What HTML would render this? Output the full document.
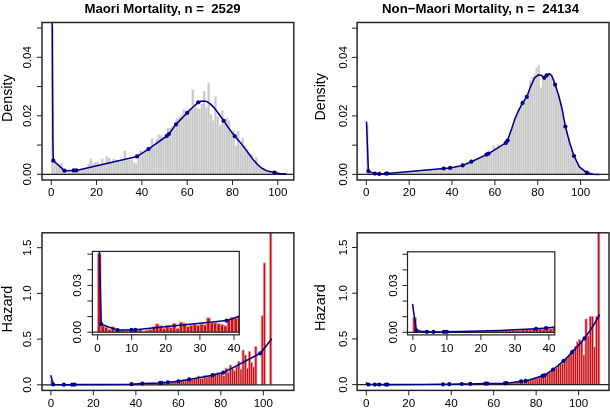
<!DOCTYPE html><html><head><meta charset="utf-8"><style>html,body{margin:0;padding:0;background:#fff;overflow:hidden;width:610px;height:409px;}svg{display:block;will-change:transform;filter:blur(0.3px);}text{font-family:"Liberation Sans",sans-serif;fill:#000;white-space:pre;}</style></head><body>
<svg width="610" height="409" viewBox="0 0 610 409">
<rect width="610" height="409" fill="#fff"/>
<defs><clipPath id="c1"><rect x="42.0" y="22.5" width="251.8" height="157.5"/></clipPath><clipPath id="c2"><rect x="357.1" y="22.5" width="251.9" height="157.5"/></clipPath><clipPath id="c3"><rect x="42.0" y="232.8" width="251.9" height="157.6"/></clipPath><clipPath id="c4"><rect x="357.1" y="232.8" width="251.9" height="157.6"/></clipPath><clipPath id="ci3"><rect x="92.4" y="251.4" width="146.9" height="83.4"/></clipPath><clipPath id="ci4"><rect x="407.5" y="251.8" width="147.3" height="83.1"/></clipPath></defs>
<g clip-path="url(#c1)" fill="#c9c9c9" stroke="#e2e2e2" stroke-width="0.4">
<rect x="51.25" y="26.9" width="2.27" height="147.4"/>
<rect x="53.52" y="163" width="2.27" height="11.3"/>
<rect x="55.78" y="165.6" width="2.27" height="8.7"/>
<rect x="58.05" y="167.2" width="2.27" height="7.1"/>
<rect x="60.31" y="163" width="2.27" height="11.3"/>
<rect x="62.58" y="170.4" width="2.27" height="3.9"/>
<rect x="64.84" y="170.4" width="2.27" height="3.9"/>
<rect x="67.11" y="171" width="2.27" height="3.3"/>
<rect x="69.37" y="171.3" width="2.27" height="3"/>
<rect x="71.64" y="171" width="2.27" height="3.3"/>
<rect x="73.91" y="171" width="2.27" height="3.3"/>
<rect x="76.17" y="171.3" width="2.27" height="3"/>
<rect x="78.44" y="170.7" width="2.27" height="3.6"/>
<rect x="80.7" y="169.7" width="2.27" height="4.6"/>
<rect x="82.97" y="169.4" width="2.27" height="4.9"/>
<rect x="85.23" y="169" width="2.27" height="5.3"/>
<rect x="87.5" y="163.8" width="2.27" height="10.5"/>
<rect x="89.76" y="158.9" width="2.27" height="15.4"/>
<rect x="92.03" y="163.3" width="2.27" height="11"/>
<rect x="94.29" y="162" width="2.27" height="12.3"/>
<rect x="96.56" y="162" width="2.27" height="12.3"/>
<rect x="98.83" y="164.2" width="2.27" height="10.1"/>
<rect x="101.09" y="158.9" width="2.27" height="15.4"/>
<rect x="103.36" y="165" width="2.27" height="9.3"/>
<rect x="105.62" y="156.7" width="2.27" height="17.6"/>
<rect x="107.89" y="158" width="2.27" height="16.3"/>
<rect x="110.15" y="162.4" width="2.27" height="11.9"/>
<rect x="112.42" y="158.9" width="2.27" height="15.4"/>
<rect x="114.68" y="159.8" width="2.27" height="14.5"/>
<rect x="116.95" y="160" width="2.27" height="14.3"/>
<rect x="119.21" y="161.5" width="2.27" height="12.8"/>
<rect x="121.48" y="160.9" width="2.27" height="13.4"/>
<rect x="123.75" y="150.8" width="2.27" height="23.5"/>
<rect x="126.01" y="160.4" width="2.27" height="13.9"/>
<rect x="128.28" y="159.8" width="2.27" height="14.5"/>
<rect x="130.54" y="159.8" width="2.27" height="14.5"/>
<rect x="132.81" y="162.6" width="2.27" height="11.7"/>
<rect x="135.07" y="163.7" width="2.27" height="10.6"/>
<rect x="137.34" y="158.1" width="2.27" height="16.2"/>
<rect x="139.6" y="150.8" width="2.27" height="23.5"/>
<rect x="141.87" y="153.1" width="2.27" height="21.2"/>
<rect x="144.14" y="150.2" width="2.27" height="24.1"/>
<rect x="146.4" y="149.7" width="2.27" height="24.6"/>
<rect x="148.67" y="147.4" width="2.27" height="26.9"/>
<rect x="150.93" y="138.2" width="2.27" height="36.1"/>
<rect x="153.2" y="147" width="2.27" height="27.3"/>
<rect x="155.46" y="139" width="2.27" height="35.3"/>
<rect x="157.73" y="134.5" width="2.27" height="39.8"/>
<rect x="159.99" y="135.5" width="2.27" height="38.8"/>
<rect x="162.26" y="138" width="2.27" height="36.3"/>
<rect x="164.52" y="134" width="2.27" height="40.3"/>
<rect x="166.79" y="128" width="2.27" height="46.3"/>
<rect x="169.06" y="128" width="2.27" height="46.3"/>
<rect x="171.32" y="126" width="2.27" height="48.3"/>
<rect x="173.59" y="124.6" width="2.27" height="49.7"/>
<rect x="175.85" y="118.5" width="2.27" height="55.8"/>
<rect x="178.12" y="117.2" width="2.27" height="57.1"/>
<rect x="180.38" y="115" width="2.27" height="59.3"/>
<rect x="182.65" y="109.4" width="2.27" height="64.9"/>
<rect x="184.91" y="112.3" width="2.27" height="62"/>
<rect x="187.18" y="110" width="2.27" height="64.3"/>
<rect x="189.45" y="108" width="2.27" height="66.3"/>
<rect x="191.71" y="89.8" width="2.27" height="84.5"/>
<rect x="193.98" y="104.6" width="2.27" height="69.7"/>
<rect x="196.24" y="108" width="2.27" height="66.3"/>
<rect x="198.51" y="109" width="2.27" height="65.3"/>
<rect x="200.77" y="104" width="2.27" height="70.3"/>
<rect x="203.04" y="91.2" width="2.27" height="83.1"/>
<rect x="205.3" y="107.6" width="2.27" height="66.7"/>
<rect x="207.57" y="82.9" width="2.27" height="91.4"/>
<rect x="209.83" y="114.2" width="2.27" height="60.1"/>
<rect x="212.1" y="120.8" width="2.27" height="53.5"/>
<rect x="214.37" y="96.6" width="2.27" height="77.7"/>
<rect x="216.63" y="117" width="2.27" height="57.3"/>
<rect x="218.9" y="125.2" width="2.27" height="49.1"/>
<rect x="221.16" y="110.5" width="2.27" height="63.8"/>
<rect x="223.43" y="123.7" width="2.27" height="50.6"/>
<rect x="225.69" y="117.9" width="2.27" height="56.4"/>
<rect x="227.96" y="120.8" width="2.27" height="53.5"/>
<rect x="230.22" y="132.5" width="2.27" height="41.8"/>
<rect x="232.49" y="130.3" width="2.27" height="44"/>
<rect x="234.76" y="145.7" width="2.27" height="28.6"/>
<rect x="237.02" y="131" width="2.27" height="43.3"/>
<rect x="239.29" y="145" width="2.27" height="29.3"/>
<rect x="241.55" y="138" width="2.27" height="36.3"/>
<rect x="243.82" y="145.5" width="2.27" height="28.8"/>
<rect x="246.08" y="148.8" width="2.27" height="25.5"/>
<rect x="248.35" y="153.5" width="2.27" height="20.8"/>
<rect x="250.61" y="154.6" width="2.27" height="19.7"/>
<rect x="252.88" y="160.5" width="2.27" height="13.8"/>
<rect x="255.14" y="157" width="2.27" height="17.3"/>
<rect x="257.41" y="166" width="2.27" height="8.3"/>
<rect x="259.68" y="168" width="2.27" height="6.3"/>
<rect x="261.94" y="169.5" width="2.27" height="4.8"/>
<rect x="264.21" y="170.5" width="2.27" height="3.8"/>
<rect x="266.47" y="171.5" width="2.27" height="2.8"/>
<rect x="268.74" y="171.5" width="2.27" height="2.8"/>
<rect x="275.53" y="170.5" width="2.27" height="3.8"/>
<rect x="277.8" y="172.3" width="2.27" height="2"/>
<rect x="284.6" y="173.6" width="2.27" height="0.7"/>
</g>
<line clip-path="url(#c1)" x1="42.0" x2="293.8" y1="174.3" y2="174.3" stroke="#222" stroke-width="1.3"/>
<polyline clip-path="url(#c1)" points="52.2,20 52.5,80 52.9,140 53.3,160.7 64.4,170.7 73.7,170.4 76.3,170.4 137.1,156.4 148.5,149.1 166.8,136 168.9,134 176,124.4 187.2,112.8 193,107 198.3,102.3 201,101.2 203.8,100.9 206.7,101.6 209.7,103.4 214.1,107.6 218.5,113.5 223.7,120.8 228.7,128.1 234.7,136.2 240.5,142.8 245.6,149.4 249,154 252.1,158.3 256.8,163.8 261.5,168 267.3,171.1 274.3,172.5 279.1,173.4 286.1,174.1" fill="none" stroke="#00008b" stroke-width="1.55" stroke-linejoin="round" stroke-linecap="round"/>
<circle cx="53.3" cy="160.7" r="2.1" fill="#00008b"/>
<circle cx="64.4" cy="170.7" r="2.1" fill="#00008b"/>
<circle cx="73.7" cy="170.4" r="2.1" fill="#00008b"/>
<circle cx="76.3" cy="170.4" r="2.1" fill="#00008b"/>
<circle cx="137.1" cy="156.4" r="2.1" fill="#00008b"/>
<circle cx="148.5" cy="149.1" r="2.1" fill="#00008b"/>
<circle cx="166.8" cy="136" r="2.1" fill="#00008b"/>
<circle cx="168.9" cy="134" r="2.1" fill="#00008b"/>
<circle cx="176" cy="124.4" r="2.1" fill="#00008b"/>
<circle cx="187.2" cy="112.8" r="2.1" fill="#00008b"/>
<circle cx="198.3" cy="102.3" r="2.1" fill="#00008b"/>
<circle cx="223.7" cy="120.8" r="2.1" fill="#00008b"/>
<circle cx="234.7" cy="136.2" r="2.1" fill="#00008b"/>
<circle cx="274.3" cy="172.5" r="2.1" fill="#00008b"/>
<rect x="42.0" y="22.5" width="251.8" height="157.5" fill="none" stroke="#222" stroke-width="1.45"/>
<line x1="51.25" x2="51.25" y1="180.0" y2="185" stroke="#222" stroke-width="1"/>
<text x="51.25" y="195.8" font-size="11.6" text-anchor="middle">0</text>
<line x1="96.56" x2="96.56" y1="180.0" y2="185" stroke="#222" stroke-width="1"/>
<text x="96.56" y="195.8" font-size="11.6" text-anchor="middle">20</text>
<line x1="141.87" x2="141.87" y1="180.0" y2="185" stroke="#222" stroke-width="1"/>
<text x="141.87" y="195.8" font-size="11.6" text-anchor="middle">40</text>
<line x1="187.18" x2="187.18" y1="180.0" y2="185" stroke="#222" stroke-width="1"/>
<text x="187.18" y="195.8" font-size="11.6" text-anchor="middle">60</text>
<line x1="232.49" x2="232.49" y1="180.0" y2="185" stroke="#222" stroke-width="1"/>
<text x="232.49" y="195.8" font-size="11.6" text-anchor="middle">80</text>
<line x1="277.8" x2="277.8" y1="180.0" y2="185" stroke="#222" stroke-width="1"/>
<text x="277.8" y="195.8" font-size="11.6" text-anchor="middle">100</text>
<line x1="37" x2="42.0" y1="174.3" y2="174.3" stroke="#222" stroke-width="1"/>
<line x1="37" x2="42.0" y1="145.05" y2="145.05" stroke="#222" stroke-width="1"/>
<line x1="37" x2="42.0" y1="115.8" y2="115.8" stroke="#222" stroke-width="1"/>
<line x1="37" x2="42.0" y1="86.55" y2="86.55" stroke="#222" stroke-width="1"/>
<line x1="37" x2="42.0" y1="57.3" y2="57.3" stroke="#222" stroke-width="1"/>
<line x1="37" x2="42.0" y1="28.05" y2="28.05" stroke="#222" stroke-width="1"/>
<text transform="translate(31,174.3) rotate(-90)" font-size="11.6" text-anchor="middle">0.00</text>
<text transform="translate(31,115.8) rotate(-90)" font-size="11.6" text-anchor="middle">0.02</text>
<text transform="translate(31,57.3) rotate(-90)" font-size="11.6" text-anchor="middle">0.04</text>
<text x="84.4" y="13.3" font-size="13.2" font-weight="bold">Maori Mortality, n =  2529</text>
<text transform="translate(12.2,98.2) rotate(-90)" font-size="14.25" text-anchor="middle">Density</text>
<g clip-path="url(#c2)" fill="#c9c9c9" stroke="#e2e2e2" stroke-width="0.4">
<rect x="366.3" y="124" width="2.14" height="50.4"/>
<rect x="368.44" y="171.72" width="2.14" height="2.68"/>
<rect x="370.59" y="172.57" width="2.14" height="1.83"/>
<rect x="372.73" y="173.18" width="2.14" height="1.22"/>
<rect x="374.87" y="173.58" width="2.14" height="0.82"/>
<rect x="377.01" y="173.79" width="2.14" height="0.61"/>
<rect x="379.16" y="174.09" width="2.14" height="0.31"/>
<rect x="381.3" y="173.4" width="2.14" height="1"/>
<rect x="383.44" y="173.8" width="2.14" height="0.6"/>
<rect x="385.59" y="173.09" width="2.14" height="1.31"/>
<rect x="387.73" y="173.35" width="2.14" height="1.05"/>
<rect x="389.87" y="173.41" width="2.14" height="0.99"/>
<rect x="392.02" y="173.03" width="2.14" height="1.37"/>
<rect x="394.16" y="173.03" width="2.14" height="1.37"/>
<rect x="396.3" y="172.27" width="2.14" height="2.13"/>
<rect x="398.44" y="172.28" width="2.14" height="2.12"/>
<rect x="400.59" y="172.21" width="2.14" height="2.19"/>
<rect x="402.73" y="172.28" width="2.14" height="2.12"/>
<rect x="404.87" y="172.03" width="2.14" height="2.37"/>
<rect x="407.02" y="171.58" width="2.14" height="2.82"/>
<rect x="409.16" y="171.32" width="2.14" height="3.08"/>
<rect x="411.3" y="171.33" width="2.14" height="3.07"/>
<rect x="413.45" y="170.77" width="2.14" height="3.63"/>
<rect x="415.59" y="170.77" width="2.14" height="3.63"/>
<rect x="417.73" y="170.29" width="2.14" height="4.11"/>
<rect x="419.88" y="170.53" width="2.14" height="3.87"/>
<rect x="422.02" y="170.42" width="2.14" height="3.98"/>
<rect x="424.16" y="169.83" width="2.14" height="4.57"/>
<rect x="426.3" y="169.91" width="2.14" height="4.49"/>
<rect x="428.45" y="169.61" width="2.14" height="4.79"/>
<rect x="430.59" y="169.32" width="2.14" height="5.08"/>
<rect x="432.73" y="169.31" width="2.14" height="5.09"/>
<rect x="434.88" y="168.94" width="2.14" height="5.46"/>
<rect x="437.02" y="168.88" width="2.14" height="5.52"/>
<rect x="439.16" y="168.23" width="2.14" height="6.17"/>
<rect x="441.31" y="168.36" width="2.14" height="6.04"/>
<rect x="443.45" y="168.26" width="2.14" height="6.14"/>
<rect x="445.59" y="167.65" width="2.14" height="6.75"/>
<rect x="447.73" y="167.96" width="2.14" height="6.44"/>
<rect x="449.88" y="167.5" width="2.14" height="6.9"/>
<rect x="452.02" y="167.37" width="2.14" height="7.03"/>
<rect x="454.16" y="167.17" width="2.14" height="7.23"/>
<rect x="456.31" y="166.28" width="2.14" height="8.12"/>
<rect x="458.45" y="166.25" width="2.14" height="8.15"/>
<rect x="460.59" y="165.21" width="2.14" height="9.19"/>
<rect x="462.74" y="165.02" width="2.14" height="9.38"/>
<rect x="464.88" y="163.53" width="2.14" height="10.87"/>
<rect x="467.02" y="162.48" width="2.14" height="11.92"/>
<rect x="469.16" y="162.24" width="2.14" height="12.16"/>
<rect x="471.31" y="160.86" width="2.14" height="13.54"/>
<rect x="473.45" y="160.02" width="2.14" height="14.38"/>
<rect x="475.59" y="159.51" width="2.14" height="14.89"/>
<rect x="477.74" y="158.26" width="2.14" height="16.14"/>
<rect x="479.88" y="157.14" width="2.14" height="17.26"/>
<rect x="482.02" y="156.53" width="2.14" height="17.87"/>
<rect x="484.17" y="155.07" width="2.14" height="19.33"/>
<rect x="486.31" y="153.37" width="2.14" height="21.03"/>
<rect x="488.45" y="152.71" width="2.14" height="21.69"/>
<rect x="490.59" y="151.64" width="2.14" height="22.76"/>
<rect x="492.74" y="145.6" width="2.14" height="28.8"/>
<rect x="494.88" y="148.09" width="2.14" height="26.31"/>
<rect x="497.02" y="144.5" width="2.14" height="29.9"/>
<rect x="499.17" y="146.57" width="2.14" height="27.83"/>
<rect x="501.31" y="145.77" width="2.14" height="28.63"/>
<rect x="503.45" y="144.16" width="2.14" height="30.24"/>
<rect x="505.6" y="142.1" width="2.14" height="32.3"/>
<rect x="507.74" y="137.8" width="2.14" height="36.6"/>
<rect x="509.88" y="131.44" width="2.14" height="42.96"/>
<rect x="512.02" y="124.95" width="2.14" height="49.45"/>
<rect x="514.17" y="117.83" width="2.14" height="56.57"/>
<rect x="516.31" y="113.74" width="2.14" height="60.66"/>
<rect x="518.45" y="109.08" width="2.14" height="65.32"/>
<rect x="520.6" y="102.62" width="2.14" height="71.78"/>
<rect x="522.74" y="100.84" width="2.14" height="73.56"/>
<rect x="524.88" y="99.53" width="2.14" height="74.87"/>
<rect x="527.02" y="93.71" width="2.14" height="80.69"/>
<rect x="529.17" y="80.5" width="2.14" height="93.9"/>
<rect x="531.31" y="77" width="2.14" height="97.4"/>
<rect x="533.45" y="74.5" width="2.14" height="99.9"/>
<rect x="535.6" y="67.8" width="2.14" height="106.6"/>
<rect x="537.74" y="65.1" width="2.14" height="109.3"/>
<rect x="539.88" y="87.3" width="2.14" height="87.1"/>
<rect x="542.03" y="76.5" width="2.14" height="97.9"/>
<rect x="544.17" y="78.5" width="2.14" height="95.9"/>
<rect x="546.31" y="76" width="2.14" height="98.4"/>
<rect x="548.45" y="75" width="2.14" height="99.4"/>
<rect x="550.6" y="73.28" width="2.14" height="101.12"/>
<rect x="552.74" y="78.68" width="2.14" height="95.72"/>
<rect x="554.88" y="85.1" width="2.14" height="89.3"/>
<rect x="557.03" y="94.35" width="2.14" height="80.05"/>
<rect x="559.17" y="102.11" width="2.14" height="72.29"/>
<rect x="561.31" y="111.81" width="2.14" height="62.59"/>
<rect x="563.46" y="122.07" width="2.14" height="52.33"/>
<rect x="565.6" y="130.16" width="2.14" height="44.24"/>
<rect x="567.74" y="138.1" width="2.14" height="36.3"/>
<rect x="569.88" y="145.9" width="2.14" height="28.5"/>
<rect x="572.03" y="153.55" width="2.14" height="20.85"/>
<rect x="574.17" y="158.78" width="2.14" height="15.62"/>
<rect x="576.31" y="162.22" width="2.14" height="12.18"/>
<rect x="578.46" y="166.65" width="2.14" height="7.75"/>
<rect x="580.6" y="168.17" width="2.14" height="6.23"/>
<rect x="582.74" y="170.1" width="2.14" height="4.3"/>
<rect x="584.89" y="171.55" width="2.14" height="2.85"/>
<rect x="587.03" y="172.83" width="2.14" height="1.57"/>
<rect x="589.17" y="173.18" width="2.14" height="1.22"/>
<rect x="591.32" y="173.73" width="2.14" height="0.67"/>
<rect x="593.46" y="174.26" width="2.14" height="0.14"/>
<rect x="595.6" y="173.93" width="2.14" height="0.47"/>
<rect x="602.03" y="174.16" width="2.14" height="0.24"/>
</g>
<line clip-path="url(#c2)" x1="357.1" x2="609.0" y1="174.4" y2="174.4" stroke="#222" stroke-width="1.3"/>
<polyline clip-path="url(#c2)" points="366.5,122.3 368.4,171.1 374.9,173.6 379.2,173.9 386,173.6 387.4,173.5 443.7,168.5 450.1,167.9 462.7,165.4 471.4,161.7 486.5,154.6 488.6,153.6 505.8,142.9 507.6,140.5 509.6,134.5 511.6,129 514.7,119.5 518.4,110.9 522.6,102.9 526.8,96.9 530.6,86.6 534.4,78.2 538.4,74.8 541.8,75.6 544.2,77.8 546.6,75.4 549.2,73.6 551.9,76 555.1,84.6 558.6,95.3 562,108.5 565.4,126.6 569.6,142.5 574,156 579.4,166.8 586.8,172.6 592.9,174.2 599,174.5" fill="none" stroke="#00008b" stroke-width="1.55" stroke-linejoin="round" stroke-linecap="round"/>
<circle cx="368.4" cy="171.1" r="2.1" fill="#00008b"/>
<circle cx="374.9" cy="173.6" r="2.1" fill="#00008b"/>
<circle cx="379.2" cy="173.9" r="2.1" fill="#00008b"/>
<circle cx="386" cy="173.6" r="2.1" fill="#00008b"/>
<circle cx="387.4" cy="173.5" r="2.1" fill="#00008b"/>
<circle cx="443.7" cy="168.5" r="2.1" fill="#00008b"/>
<circle cx="450.1" cy="167.9" r="2.1" fill="#00008b"/>
<circle cx="462.7" cy="165.4" r="2.1" fill="#00008b"/>
<circle cx="471.4" cy="161.7" r="2.1" fill="#00008b"/>
<circle cx="486.5" cy="154.6" r="2.1" fill="#00008b"/>
<circle cx="488.6" cy="153.6" r="2.1" fill="#00008b"/>
<circle cx="505.8" cy="142.9" r="2.1" fill="#00008b"/>
<circle cx="507.6" cy="140.5" r="2.1" fill="#00008b"/>
<circle cx="522.6" cy="102.9" r="2.1" fill="#00008b"/>
<circle cx="526.8" cy="96.9" r="2.1" fill="#00008b"/>
<circle cx="544.2" cy="77.8" r="2.1" fill="#00008b"/>
<circle cx="546.6" cy="75.4" r="2.1" fill="#00008b"/>
<circle cx="555.1" cy="84.6" r="2.1" fill="#00008b"/>
<circle cx="565.4" cy="126.6" r="2.1" fill="#00008b"/>
<circle cx="574" cy="156" r="2.1" fill="#00008b"/>
<circle cx="586.8" cy="172.6" r="2.1" fill="#00008b"/>
<rect x="357.1" y="22.5" width="251.9" height="157.5" fill="none" stroke="#222" stroke-width="1.45"/>
<line x1="366.3" x2="366.3" y1="180.0" y2="185" stroke="#222" stroke-width="1"/>
<text x="366.3" y="195.8" font-size="11.6" text-anchor="middle">0</text>
<line x1="409.16" x2="409.16" y1="180.0" y2="185" stroke="#222" stroke-width="1"/>
<text x="409.16" y="195.8" font-size="11.6" text-anchor="middle">20</text>
<line x1="452.02" x2="452.02" y1="180.0" y2="185" stroke="#222" stroke-width="1"/>
<text x="452.02" y="195.8" font-size="11.6" text-anchor="middle">40</text>
<line x1="494.88" x2="494.88" y1="180.0" y2="185" stroke="#222" stroke-width="1"/>
<text x="494.88" y="195.8" font-size="11.6" text-anchor="middle">60</text>
<line x1="537.74" x2="537.74" y1="180.0" y2="185" stroke="#222" stroke-width="1"/>
<text x="537.74" y="195.8" font-size="11.6" text-anchor="middle">80</text>
<line x1="580.6" x2="580.6" y1="180.0" y2="185" stroke="#222" stroke-width="1"/>
<text x="580.6" y="195.8" font-size="11.6" text-anchor="middle">100</text>
<line x1="352.1" x2="357.1" y1="174.4" y2="174.4" stroke="#222" stroke-width="1"/>
<line x1="352.1" x2="357.1" y1="145.15" y2="145.15" stroke="#222" stroke-width="1"/>
<line x1="352.1" x2="357.1" y1="115.9" y2="115.9" stroke="#222" stroke-width="1"/>
<line x1="352.1" x2="357.1" y1="86.65" y2="86.65" stroke="#222" stroke-width="1"/>
<line x1="352.1" x2="357.1" y1="57.4" y2="57.4" stroke="#222" stroke-width="1"/>
<line x1="352.1" x2="357.1" y1="28.15" y2="28.15" stroke="#222" stroke-width="1"/>
<text transform="translate(346.8,174.4) rotate(-90)" font-size="11.6" text-anchor="middle">0.00</text>
<text transform="translate(346.8,115.9) rotate(-90)" font-size="11.6" text-anchor="middle">0.02</text>
<text transform="translate(346.8,57.4) rotate(-90)" font-size="11.6" text-anchor="middle">0.04</text>
<text x="382.1" y="13.3" font-size="13.2" font-weight="bold">Non−Maori Mortality, n =  24134</text>
<text transform="translate(325.3,96.8) rotate(-90)" font-size="14.25" text-anchor="middle">Density</text>
<g clip-path="url(#c3)" fill="#cc0a12" stroke="#df9c9c" stroke-width="0.7">
<rect x="50.9" y="380.37" width="2.12" height="4.43"/>
<rect x="53.02" y="384.44" width="2.12" height="0.36"/>
<rect x="55.15" y="384.52" width="2.12" height="0.28"/>
<rect x="57.27" y="384.57" width="2.12" height="0.23"/>
<rect x="59.4" y="384.44" width="2.12" height="0.36"/>
<rect x="61.52" y="384.68" width="2.12" height="0.12"/>
<rect x="63.64" y="384.68" width="2.12" height="0.12"/>
<rect x="65.77" y="384.69" width="2.12" height="0.11"/>
<rect x="67.89" y="384.7" width="2.12" height="0.1"/>
<rect x="70.02" y="384.69" width="2.12" height="0.11"/>
<rect x="72.14" y="384.69" width="2.12" height="0.11"/>
<rect x="74.26" y="384.7" width="2.12" height="0.1"/>
<rect x="76.39" y="384.68" width="2.12" height="0.12"/>
<rect x="78.51" y="384.65" width="2.12" height="0.15"/>
<rect x="80.64" y="384.64" width="2.12" height="0.16"/>
<rect x="82.76" y="384.63" width="2.12" height="0.17"/>
<rect x="84.88" y="384.46" width="2.12" height="0.34"/>
<rect x="87.01" y="384.3" width="2.12" height="0.5"/>
<rect x="89.13" y="384.44" width="2.12" height="0.36"/>
<rect x="91.26" y="384.4" width="2.12" height="0.4"/>
<rect x="93.38" y="384.39" width="2.12" height="0.41"/>
<rect x="95.5" y="384.46" width="2.12" height="0.34"/>
<rect x="97.63" y="384.29" width="2.12" height="0.51"/>
<rect x="99.75" y="384.49" width="2.12" height="0.31"/>
<rect x="101.88" y="384.21" width="2.12" height="0.59"/>
<rect x="104" y="384.25" width="2.12" height="0.55"/>
<rect x="106.12" y="384.39" width="2.12" height="0.41"/>
<rect x="108.25" y="384.27" width="2.12" height="0.53"/>
<rect x="110.37" y="384.3" width="2.12" height="0.5"/>
<rect x="112.5" y="384.31" width="2.12" height="0.49"/>
<rect x="114.62" y="384.36" width="2.12" height="0.44"/>
<rect x="116.74" y="384.33" width="2.12" height="0.47"/>
<rect x="118.87" y="383.97" width="2.12" height="0.83"/>
<rect x="120.99" y="384.31" width="2.12" height="0.49"/>
<rect x="123.12" y="384.28" width="2.12" height="0.52"/>
<rect x="125.24" y="384.28" width="2.12" height="0.52"/>
<rect x="127.36" y="384.38" width="2.12" height="0.42"/>
<rect x="129.49" y="384.42" width="2.12" height="0.38"/>
<rect x="131.61" y="384.21" width="2.12" height="0.59"/>
<rect x="133.74" y="383.94" width="2.12" height="0.86"/>
<rect x="135.86" y="384.02" width="2.12" height="0.78"/>
<rect x="137.98" y="383.9" width="2.12" height="0.9"/>
<rect x="140.11" y="383.87" width="2.12" height="0.93"/>
<rect x="142.23" y="383.78" width="2.12" height="1.02"/>
<rect x="144.36" y="383.41" width="2.12" height="1.39"/>
<rect x="146.48" y="383.73" width="2.12" height="1.07"/>
<rect x="148.6" y="383.41" width="2.12" height="1.39"/>
<rect x="150.73" y="383.2" width="2.12" height="1.6"/>
<rect x="152.85" y="383.22" width="2.12" height="1.58"/>
<rect x="154.98" y="383.29" width="2.12" height="1.51"/>
<rect x="157.1" y="383.1" width="2.12" height="1.7"/>
<rect x="159.22" y="382.81" width="2.12" height="1.99"/>
<rect x="161.35" y="382.76" width="2.12" height="2.04"/>
<rect x="163.47" y="382.63" width="2.12" height="2.17"/>
<rect x="165.6" y="382.51" width="2.12" height="2.29"/>
<rect x="167.72" y="382.16" width="2.12" height="2.64"/>
<rect x="169.84" y="382.02" width="2.12" height="2.78"/>
<rect x="171.97" y="381.82" width="2.12" height="2.98"/>
<rect x="174.09" y="381.43" width="2.12" height="3.37"/>
<rect x="176.22" y="381.46" width="2.12" height="3.34"/>
<rect x="178.34" y="381.2" width="2.12" height="3.6"/>
<rect x="180.46" y="380.94" width="2.12" height="3.86"/>
<rect x="182.59" y="379.66" width="2.12" height="5.14"/>
<rect x="184.71" y="380.31" width="2.12" height="4.49"/>
<rect x="186.84" y="380.31" width="2.12" height="4.49"/>
<rect x="188.96" y="380.15" width="2.12" height="4.65"/>
<rect x="191.08" y="379.7" width="2.12" height="5.1"/>
<rect x="193.21" y="379.2" width="2.12" height="5.6"/>
<rect x="195.33" y="378.6" width="2.12" height="6.2"/>
<rect x="197.46" y="376" width="2.12" height="8.8"/>
<rect x="199.58" y="378.6" width="2.12" height="6.2"/>
<rect x="201.7" y="378.6" width="2.12" height="6.2"/>
<rect x="203.83" y="375.5" width="2.12" height="9.3"/>
<rect x="205.95" y="377.1" width="2.12" height="7.7"/>
<rect x="208.08" y="376.5" width="2.12" height="8.3"/>
<rect x="210.2" y="375" width="2.12" height="9.8"/>
<rect x="212.32" y="376.5" width="2.12" height="8.3"/>
<rect x="214.45" y="373.4" width="2.12" height="11.4"/>
<rect x="216.57" y="372.5" width="2.12" height="12.3"/>
<rect x="218.7" y="373.9" width="2.12" height="10.9"/>
<rect x="220.82" y="373.4" width="2.12" height="11.4"/>
<rect x="222.94" y="376" width="2.12" height="8.8"/>
<rect x="225.07" y="368.1" width="2.12" height="16.7"/>
<rect x="227.19" y="372.3" width="2.12" height="12.5"/>
<rect x="229.32" y="365" width="2.12" height="19.8"/>
<rect x="231.44" y="368.7" width="2.12" height="16.1"/>
<rect x="233.56" y="370.8" width="2.12" height="14"/>
<rect x="235.69" y="366.6" width="2.12" height="18.2"/>
<rect x="237.81" y="361.3" width="2.12" height="23.5"/>
<rect x="239.94" y="369.2" width="2.12" height="15.6"/>
<rect x="242.06" y="350.1" width="2.12" height="34.7"/>
<rect x="244.18" y="355" width="2.12" height="29.8"/>
<rect x="246.31" y="368.1" width="2.12" height="16.7"/>
<rect x="248.43" y="351.6" width="2.12" height="33.2"/>
<rect x="250.56" y="362.6" width="2.12" height="22.2"/>
<rect x="252.68" y="367" width="2.12" height="17.8"/>
<rect x="254.8" y="346.6" width="2.12" height="38.2"/>
<rect x="261.18" y="315.8" width="2.12" height="69"/>
<rect x="263.3" y="263" width="2.12" height="121.8"/>
<rect x="269.67" y="200" width="2.12" height="184.8"/>
</g>
<line clip-path="url(#c3)" x1="42.0" x2="293.9" y1="384.8" y2="384.8" stroke="#222" stroke-width="1.3"/>
<polyline clip-path="url(#c3)" points="50.9,375.7 53.3,384.5 63.8,384.65 72,384.65 74.6,384.6 100,384.45 131.5,384.2 142.3,383.6 160,382.9 161.3,382.8 167.9,382.3 178.5,381.3 189.1,379.4 200,377.5 212.6,375.2 223.3,372.5 235,366.6 245,361.3 260.2,353.3 265,347.5 271.3,339.3" fill="none" stroke="#00008b" stroke-width="1.55" stroke-linejoin="round" stroke-linecap="round"/>
<circle cx="53.3" cy="384.5" r="2.1" fill="#00008b"/>
<circle cx="63.8" cy="384.65" r="2.1" fill="#00008b"/>
<circle cx="72.2" cy="384.65" r="2.1" fill="#00008b"/>
<circle cx="74.6" cy="384.6" r="2.1" fill="#00008b"/>
<circle cx="131.5" cy="384.2" r="2.1" fill="#00008b"/>
<circle cx="142.3" cy="383.6" r="2.1" fill="#00008b"/>
<circle cx="160" cy="382.9" r="2.1" fill="#00008b"/>
<circle cx="161.6" cy="382.8" r="2.1" fill="#00008b"/>
<circle cx="167.9" cy="382.3" r="2.1" fill="#00008b"/>
<circle cx="178.5" cy="381.3" r="2.1" fill="#00008b"/>
<circle cx="189.1" cy="379.4" r="2.1" fill="#00008b"/>
<circle cx="212.6" cy="375.2" r="2.1" fill="#00008b"/>
<circle cx="223.3" cy="372.5" r="2.1" fill="#00008b"/>
<circle cx="260.2" cy="353.3" r="2.1" fill="#00008b"/>
<rect x="42.0" y="232.8" width="251.9" height="157.6" fill="none" stroke="#222" stroke-width="1.45"/>
<line x1="50.9" x2="50.9" y1="390.4" y2="395.4" stroke="#222" stroke-width="1"/>
<text x="50.9" y="407.2" font-size="11.6" text-anchor="middle">0</text>
<line x1="93.38" x2="93.38" y1="390.4" y2="395.4" stroke="#222" stroke-width="1"/>
<text x="93.38" y="407.2" font-size="11.6" text-anchor="middle">20</text>
<line x1="135.86" x2="135.86" y1="390.4" y2="395.4" stroke="#222" stroke-width="1"/>
<text x="135.86" y="407.2" font-size="11.6" text-anchor="middle">40</text>
<line x1="178.34" x2="178.34" y1="390.4" y2="395.4" stroke="#222" stroke-width="1"/>
<text x="178.34" y="407.2" font-size="11.6" text-anchor="middle">60</text>
<line x1="220.82" x2="220.82" y1="390.4" y2="395.4" stroke="#222" stroke-width="1"/>
<text x="220.82" y="407.2" font-size="11.6" text-anchor="middle">80</text>
<line x1="263.3" x2="263.3" y1="390.4" y2="395.4" stroke="#222" stroke-width="1"/>
<text x="263.3" y="407.2" font-size="11.6" text-anchor="middle">100</text>
<line x1="37" x2="42.0" y1="384.8" y2="384.8" stroke="#222" stroke-width="1"/>
<line x1="37" x2="42.0" y1="339.1" y2="339.1" stroke="#222" stroke-width="1"/>
<line x1="37" x2="42.0" y1="293.4" y2="293.4" stroke="#222" stroke-width="1"/>
<line x1="37" x2="42.0" y1="247.7" y2="247.7" stroke="#222" stroke-width="1"/>
<text transform="translate(31,384.8) rotate(-90)" font-size="11.6" text-anchor="middle">0.0</text>
<text transform="translate(31,339.1) rotate(-90)" font-size="11.6" text-anchor="middle">0.5</text>
<text transform="translate(31,293.4) rotate(-90)" font-size="11.6" text-anchor="middle">1.0</text>
<text transform="translate(31,247.7) rotate(-90)" font-size="11.6" text-anchor="middle">1.5</text>
<text transform="translate(12.1,309.0) rotate(-90)" font-size="14.5" text-anchor="middle">Hazard</text>
<rect x="92.4" y="251.4" width="146.9" height="83.4" fill="#fff"/>
<g clip-path="url(#ci3)" fill="#cc0a12" stroke="#df9c9c" stroke-width="0.9">
<rect x="97.6" y="253.8" width="3.41" height="78.4"/>
<rect x="101.01" y="325.9" width="3.41" height="6.3"/>
<rect x="104.42" y="327.1" width="3.41" height="5.1"/>
<rect x="107.83" y="329.6" width="3.41" height="2.6"/>
<rect x="111.24" y="326.9" width="3.41" height="5.3"/>
<rect x="114.65" y="330.2" width="3.41" height="2"/>
<rect x="118.06" y="330.8" width="3.41" height="1.4"/>
<rect x="121.47" y="330.2" width="3.41" height="2"/>
<rect x="124.88" y="330.8" width="3.41" height="1.4"/>
<rect x="128.29" y="330.8" width="3.41" height="1.4"/>
<rect x="131.7" y="330.2" width="3.41" height="2"/>
<rect x="135.11" y="330.8" width="3.41" height="1.4"/>
<rect x="138.52" y="329.6" width="3.41" height="2.6"/>
<rect x="141.93" y="331.2" width="3.41" height="1"/>
<rect x="145.34" y="330.2" width="3.41" height="2"/>
<rect x="148.75" y="329.6" width="3.41" height="2.6"/>
<rect x="152.16" y="326.9" width="3.41" height="5.3"/>
<rect x="155.57" y="324" width="3.41" height="8.2"/>
<rect x="158.98" y="325.9" width="3.41" height="6.3"/>
<rect x="162.39" y="328.4" width="3.41" height="3.8"/>
<rect x="165.8" y="325.3" width="3.41" height="6.9"/>
<rect x="169.21" y="327.7" width="3.41" height="4.5"/>
<rect x="172.62" y="323.4" width="3.41" height="8.8"/>
<rect x="176.03" y="328.4" width="3.41" height="3.8"/>
<rect x="179.44" y="322.2" width="3.41" height="10"/>
<rect x="182.85" y="323.2" width="3.41" height="9"/>
<rect x="186.26" y="326.5" width="3.41" height="5.7"/>
<rect x="189.67" y="325.3" width="3.41" height="6.9"/>
<rect x="193.08" y="324.7" width="3.41" height="7.5"/>
<rect x="196.49" y="325.3" width="3.41" height="6.9"/>
<rect x="199.9" y="324.1" width="3.41" height="8.1"/>
<rect x="203.31" y="324.9" width="3.41" height="7.3"/>
<rect x="206.72" y="317.9" width="3.41" height="14.3"/>
<rect x="210.13" y="322.8" width="3.41" height="9.4"/>
<rect x="213.54" y="322.8" width="3.41" height="9.4"/>
<rect x="216.95" y="323.7" width="3.41" height="8.5"/>
<rect x="220.36" y="324.7" width="3.41" height="7.5"/>
<rect x="223.77" y="325.9" width="3.41" height="6.3"/>
<rect x="227.18" y="319.8" width="3.41" height="12.4"/>
<rect x="230.59" y="317.3" width="3.41" height="14.9"/>
<rect x="234" y="318.5" width="3.41" height="13.7"/>
<rect x="237.41" y="316.1" width="3.41" height="16.1"/>
</g>
<line clip-path="url(#ci3)" x1="92.4" x2="239.3" y1="332.2" y2="332.2" stroke="#222" stroke-width="1.3"/>
<polyline clip-path="url(#ci3)" points="97.6,176 101.2,324.1 110,327.5 117.6,330 124,329.9 131.5,329.8 135.5,329.8 150,328.3 165,326.8 180,325.3 195,323.8 210,322.3 226.5,320.6 233,318.6 240,316" fill="none" stroke="#00008b" stroke-width="1.55" stroke-linejoin="round" stroke-linecap="round"/>
<circle cx="101.2" cy="324.1" r="2.1" fill="#00008b"/>
<circle cx="117.6" cy="330" r="2.1" fill="#00008b"/>
<circle cx="131.5" cy="329.8" r="2.1" fill="#00008b"/>
<circle cx="135.5" cy="329.8" r="2.1" fill="#00008b"/>
<circle cx="226.5" cy="320.6" r="2.1" fill="#00008b"/>
<rect x="92.4" y="251.4" width="146.9" height="83.4" fill="none" stroke="#222" stroke-width="1.2"/>
<line x1="97.6" x2="97.6" y1="334.8" y2="339.8" stroke="#222" stroke-width="1"/>
<text x="97.6" y="351.8" font-size="11.6" text-anchor="middle">0</text>
<line x1="131.7" x2="131.7" y1="334.8" y2="339.8" stroke="#222" stroke-width="1"/>
<text x="131.7" y="351.8" font-size="11.6" text-anchor="middle">10</text>
<line x1="165.8" x2="165.8" y1="334.8" y2="339.8" stroke="#222" stroke-width="1"/>
<text x="165.8" y="351.8" font-size="11.6" text-anchor="middle">20</text>
<line x1="199.9" x2="199.9" y1="334.8" y2="339.8" stroke="#222" stroke-width="1"/>
<text x="199.9" y="351.8" font-size="11.6" text-anchor="middle">30</text>
<line x1="234" x2="234" y1="334.8" y2="339.8" stroke="#222" stroke-width="1"/>
<text x="234" y="351.8" font-size="11.6" text-anchor="middle">40</text>
<line x1="87.4" x2="92.4" y1="332.2" y2="332.2" stroke="#222" stroke-width="1"/>
<line x1="87.4" x2="92.4" y1="316.6" y2="316.6" stroke="#222" stroke-width="1"/>
<line x1="87.4" x2="92.4" y1="301" y2="301" stroke="#222" stroke-width="1"/>
<line x1="87.4" x2="92.4" y1="285.4" y2="285.4" stroke="#222" stroke-width="1"/>
<line x1="87.4" x2="92.4" y1="269.8" y2="269.8" stroke="#222" stroke-width="1"/>
<line x1="87.4" x2="92.4" y1="254.2" y2="254.2" stroke="#222" stroke-width="1"/>
<text transform="translate(81.4,332.2) rotate(-90)" font-size="11.6" text-anchor="middle">0.00</text>
<text transform="translate(81.4,285.4) rotate(-90)" font-size="11.6" text-anchor="middle">0.03</text>
<g clip-path="url(#c4)" fill="#cc0a12" stroke="#df9c9c" stroke-width="0.7">
<rect x="366.3" y="383.84" width="2.12" height="0.76"/>
<rect x="368.42" y="384.52" width="2.12" height="0.08"/>
<rect x="400.27" y="384.54" width="2.12" height="0.06"/>
<rect x="402.39" y="384.53" width="2.12" height="0.07"/>
<rect x="404.51" y="384.52" width="2.12" height="0.08"/>
<rect x="406.64" y="384.51" width="2.12" height="0.09"/>
<rect x="408.76" y="384.51" width="2.12" height="0.09"/>
<rect x="410.88" y="384.49" width="2.12" height="0.11"/>
<rect x="413.01" y="384.49" width="2.12" height="0.11"/>
<rect x="415.13" y="384.47" width="2.12" height="0.13"/>
<rect x="417.25" y="384.47" width="2.12" height="0.13"/>
<rect x="419.38" y="384.46" width="2.12" height="0.14"/>
<rect x="421.5" y="384.44" width="2.12" height="0.16"/>
<rect x="423.62" y="384.42" width="2.12" height="0.18"/>
<rect x="425.74" y="384.42" width="2.12" height="0.18"/>
<rect x="427.87" y="384.4" width="2.12" height="0.2"/>
<rect x="429.99" y="384.39" width="2.12" height="0.21"/>
<rect x="432.11" y="384.38" width="2.12" height="0.22"/>
<rect x="434.24" y="384.36" width="2.12" height="0.24"/>
<rect x="436.36" y="384.36" width="2.12" height="0.24"/>
<rect x="438.48" y="384.34" width="2.12" height="0.26"/>
<rect x="440.61" y="384.33" width="2.12" height="0.27"/>
<rect x="442.73" y="384.32" width="2.12" height="0.28"/>
<rect x="444.85" y="384.26" width="2.12" height="0.34"/>
<rect x="446.97" y="384.25" width="2.12" height="0.35"/>
<rect x="449.1" y="384.21" width="2.12" height="0.39"/>
<rect x="451.22" y="384.17" width="2.12" height="0.43"/>
<rect x="453.34" y="384.14" width="2.12" height="0.46"/>
<rect x="455.47" y="384.12" width="2.12" height="0.48"/>
<rect x="457.59" y="384.08" width="2.12" height="0.52"/>
<rect x="459.71" y="384.05" width="2.12" height="0.55"/>
<rect x="461.84" y="384.01" width="2.12" height="0.59"/>
<rect x="463.96" y="384.02" width="2.12" height="0.58"/>
<rect x="466.08" y="383.97" width="2.12" height="0.63"/>
<rect x="468.2" y="383.97" width="2.12" height="0.63"/>
<rect x="470.33" y="383.94" width="2.12" height="0.66"/>
<rect x="472.45" y="383.86" width="2.12" height="0.74"/>
<rect x="474.57" y="383.84" width="2.12" height="0.76"/>
<rect x="476.7" y="383.8" width="2.12" height="0.8"/>
<rect x="478.82" y="383.74" width="2.12" height="0.86"/>
<rect x="480.94" y="383.69" width="2.12" height="0.91"/>
<rect x="483.07" y="383.69" width="2.12" height="0.91"/>
<rect x="485.19" y="383.63" width="2.12" height="0.97"/>
<rect x="487.31" y="383.61" width="2.12" height="0.99"/>
<rect x="489.43" y="383.59" width="2.12" height="1.01"/>
<rect x="491.56" y="383.56" width="2.12" height="1.04"/>
<rect x="493.68" y="383.57" width="2.12" height="1.03"/>
<rect x="495.8" y="383.53" width="2.12" height="1.07"/>
<rect x="497.93" y="383.49" width="2.12" height="1.11"/>
<rect x="500.05" y="383.4" width="2.12" height="1.2"/>
<rect x="502.17" y="383.39" width="2.12" height="1.21"/>
<rect x="504.3" y="383.27" width="2.12" height="1.33"/>
<rect x="506.42" y="383.02" width="2.12" height="1.58"/>
<rect x="508.54" y="382.91" width="2.12" height="1.69"/>
<rect x="510.66" y="382.65" width="2.12" height="1.95"/>
<rect x="512.79" y="382.36" width="2.12" height="2.24"/>
<rect x="514.91" y="382.09" width="2.12" height="2.51"/>
<rect x="517.03" y="381.99" width="2.12" height="2.61"/>
<rect x="519.16" y="381.73" width="2.12" height="2.87"/>
<rect x="521.28" y="381.41" width="2.12" height="3.19"/>
<rect x="523.4" y="381.36" width="2.12" height="3.24"/>
<rect x="525.53" y="380.96" width="2.12" height="3.64"/>
<rect x="527.65" y="380.48" width="2.12" height="4.12"/>
<rect x="529.77" y="379.64" width="2.12" height="4.96"/>
<rect x="531.89" y="379.01" width="2.12" height="5.59"/>
<rect x="534.02" y="378.3" width="2.12" height="6.3"/>
<rect x="536.14" y="378.14" width="2.12" height="6.46"/>
<rect x="538.26" y="377.13" width="2.12" height="7.47"/>
<rect x="540.39" y="376.54" width="2.12" height="8.06"/>
<rect x="542.51" y="376.39" width="2.12" height="8.21"/>
<rect x="544.63" y="374.69" width="2.12" height="9.91"/>
<rect x="546.75" y="373.12" width="2.12" height="11.48"/>
<rect x="548.88" y="372.67" width="2.12" height="11.93"/>
<rect x="551" y="370.42" width="2.12" height="14.18"/>
<rect x="553.12" y="369.73" width="2.12" height="14.87"/>
<rect x="555.25" y="367.97" width="2.12" height="16.63"/>
<rect x="557.37" y="365.41" width="2.12" height="19.19"/>
<rect x="559.49" y="363.97" width="2.12" height="20.63"/>
<rect x="561.62" y="363.69" width="2.12" height="20.91"/>
<rect x="563.74" y="361.31" width="2.12" height="23.29"/>
<rect x="565.86" y="358.2" width="2.12" height="26.4"/>
<rect x="567.99" y="356" width="2.12" height="28.6"/>
<rect x="570.11" y="352.7" width="2.12" height="31.9"/>
<rect x="572.23" y="349.5" width="2.12" height="35.1"/>
<rect x="574.35" y="346.2" width="2.12" height="38.4"/>
<rect x="576.48" y="341.8" width="2.12" height="42.8"/>
<rect x="578.6" y="339.6" width="2.12" height="45"/>
<rect x="580.72" y="341" width="2.12" height="43.6"/>
<rect x="582.85" y="355" width="2.12" height="29.6"/>
<rect x="584.97" y="319" width="2.12" height="65.6"/>
<rect x="587.09" y="336" width="2.12" height="48.6"/>
<rect x="589.22" y="316.4" width="2.12" height="68.2"/>
<rect x="591.34" y="316.4" width="2.12" height="68.2"/>
<rect x="593.46" y="347" width="2.12" height="37.6"/>
<rect x="595.58" y="316.4" width="2.12" height="68.2"/>
<rect x="597.71" y="200" width="2.12" height="184.6"/>
</g>
<line clip-path="url(#c4)" x1="357.1" x2="609.0" y1="384.6" y2="384.6" stroke="#222" stroke-width="1.3"/>
<polyline clip-path="url(#c4)" points="366.3,383 368.4,384.5 374.9,384.6 379.2,384.6 386,384.6 387.4,384.6 420,384.45 443,384.3 449.3,384.2 461.8,384 470.3,383.9 485.3,383.6 487.4,383.55 495,383.5 504.9,383.3 506.4,383.1 514,382.3 521.1,381.3 525.6,380.9 533,378.8 542.6,375.8 544.5,375.3 548,372.8 553.1,369.5 558,365.5 563.6,360.8 568,356.6 572.2,352.1 578,345.8 584.5,338.4 590,330.6 594,324.5 599.3,315.1" fill="none" stroke="#00008b" stroke-width="1.55" stroke-linejoin="round" stroke-linecap="round"/>
<circle cx="368.4" cy="384.5" r="2.1" fill="#00008b"/>
<circle cx="374.9" cy="384.6" r="2.1" fill="#00008b"/>
<circle cx="379.2" cy="384.6" r="2.1" fill="#00008b"/>
<circle cx="385.8" cy="384.6" r="2.1" fill="#00008b"/>
<circle cx="387.4" cy="384.6" r="2.1" fill="#00008b"/>
<circle cx="443" cy="384.3" r="2.1" fill="#00008b"/>
<circle cx="449.3" cy="384.2" r="2.1" fill="#00008b"/>
<circle cx="461.8" cy="384" r="2.1" fill="#00008b"/>
<circle cx="470.3" cy="383.9" r="2.1" fill="#00008b"/>
<circle cx="485.3" cy="383.6" r="2.1" fill="#00008b"/>
<circle cx="487.4" cy="383.55" r="2.1" fill="#00008b"/>
<circle cx="504.9" cy="383.3" r="2.1" fill="#00008b"/>
<circle cx="506.4" cy="383.1" r="2.1" fill="#00008b"/>
<circle cx="521.1" cy="381.3" r="2.1" fill="#00008b"/>
<circle cx="525.6" cy="380.9" r="2.1" fill="#00008b"/>
<circle cx="542.6" cy="375.8" r="2.1" fill="#00008b"/>
<circle cx="544.5" cy="375.3" r="2.1" fill="#00008b"/>
<circle cx="553.1" cy="369.5" r="2.1" fill="#00008b"/>
<circle cx="563.6" cy="360.8" r="2.1" fill="#00008b"/>
<circle cx="572.2" cy="352.1" r="2.1" fill="#00008b"/>
<circle cx="584.5" cy="338.4" r="2.1" fill="#00008b"/>
<rect x="357.1" y="232.8" width="251.9" height="157.6" fill="none" stroke="#222" stroke-width="1.45"/>
<line x1="366.3" x2="366.3" y1="390.4" y2="395.4" stroke="#222" stroke-width="1"/>
<text x="366.3" y="407.2" font-size="11.6" text-anchor="middle">0</text>
<line x1="408.76" x2="408.76" y1="390.4" y2="395.4" stroke="#222" stroke-width="1"/>
<text x="408.76" y="407.2" font-size="11.6" text-anchor="middle">20</text>
<line x1="451.22" x2="451.22" y1="390.4" y2="395.4" stroke="#222" stroke-width="1"/>
<text x="451.22" y="407.2" font-size="11.6" text-anchor="middle">40</text>
<line x1="493.68" x2="493.68" y1="390.4" y2="395.4" stroke="#222" stroke-width="1"/>
<text x="493.68" y="407.2" font-size="11.6" text-anchor="middle">60</text>
<line x1="536.14" x2="536.14" y1="390.4" y2="395.4" stroke="#222" stroke-width="1"/>
<text x="536.14" y="407.2" font-size="11.6" text-anchor="middle">80</text>
<line x1="578.6" x2="578.6" y1="390.4" y2="395.4" stroke="#222" stroke-width="1"/>
<text x="578.6" y="407.2" font-size="11.6" text-anchor="middle">100</text>
<line x1="352.1" x2="357.1" y1="384.6" y2="384.6" stroke="#222" stroke-width="1"/>
<line x1="352.1" x2="357.1" y1="338.9" y2="338.9" stroke="#222" stroke-width="1"/>
<line x1="352.1" x2="357.1" y1="293.2" y2="293.2" stroke="#222" stroke-width="1"/>
<line x1="352.1" x2="357.1" y1="247.5" y2="247.5" stroke="#222" stroke-width="1"/>
<text transform="translate(346.8,384.6) rotate(-90)" font-size="11.6" text-anchor="middle">0.0</text>
<text transform="translate(346.8,338.9) rotate(-90)" font-size="11.6" text-anchor="middle">0.5</text>
<text transform="translate(346.8,293.2) rotate(-90)" font-size="11.6" text-anchor="middle">1.0</text>
<text transform="translate(346.8,247.5) rotate(-90)" font-size="11.6" text-anchor="middle">1.5</text>
<text transform="translate(325.2,307.6) rotate(-90)" font-size="14.5" text-anchor="middle">Hazard</text>
<rect x="407.5" y="251.8" width="147.3" height="83.1" fill="#fff"/>
<g clip-path="url(#ci4)" fill="#cc0a12" stroke="#df9c9c" stroke-width="0.9">
<rect x="412.9" y="317.7" width="3.4" height="14.6"/>
<rect x="416.3" y="331.41" width="3.4" height="0.89"/>
<rect x="419.7" y="331.45" width="3.4" height="0.85"/>
<rect x="423.1" y="331.41" width="3.4" height="0.89"/>
<rect x="426.5" y="331.3" width="3.4" height="1"/>
<rect x="429.9" y="331.9" width="3.4" height="0.4"/>
<rect x="433.3" y="331.81" width="3.4" height="0.49"/>
<rect x="436.7" y="331.81" width="3.4" height="0.49"/>
<rect x="440.1" y="331.86" width="3.4" height="0.44"/>
<rect x="443.5" y="331.8" width="3.4" height="0.5"/>
<rect x="446.9" y="331.73" width="3.4" height="0.57"/>
<rect x="450.3" y="331.74" width="3.4" height="0.56"/>
<rect x="453.7" y="331.8" width="3.4" height="0.5"/>
<rect x="457.1" y="331.62" width="3.4" height="0.68"/>
<rect x="460.5" y="331.64" width="3.4" height="0.66"/>
<rect x="463.9" y="331.58" width="3.4" height="0.72"/>
<rect x="467.3" y="331.72" width="3.4" height="0.58"/>
<rect x="470.7" y="331.64" width="3.4" height="0.66"/>
<rect x="474.1" y="331.64" width="3.4" height="0.66"/>
<rect x="477.5" y="331.4" width="3.4" height="0.9"/>
<rect x="480.9" y="331.45" width="3.4" height="0.85"/>
<rect x="484.3" y="331.41" width="3.4" height="0.89"/>
<rect x="487.7" y="331.23" width="3.4" height="1.07"/>
<rect x="491.1" y="330.95" width="3.4" height="1.35"/>
<rect x="494.5" y="330.86" width="3.4" height="1.44"/>
<rect x="497.9" y="330.97" width="3.4" height="1.33"/>
<rect x="501.3" y="330.91" width="3.4" height="1.39"/>
<rect x="504.7" y="330.4" width="3.4" height="1.9"/>
<rect x="508.1" y="330.43" width="3.4" height="1.87"/>
<rect x="511.5" y="330.21" width="3.4" height="2.09"/>
<rect x="514.9" y="330.44" width="3.4" height="1.86"/>
<rect x="518.3" y="330.32" width="3.4" height="1.98"/>
<rect x="521.7" y="329.71" width="3.4" height="2.59"/>
<rect x="525.1" y="329.74" width="3.4" height="2.56"/>
<rect x="528.5" y="329.86" width="3.4" height="2.44"/>
<rect x="531.9" y="328.93" width="3.4" height="3.37"/>
<rect x="535.3" y="329.01" width="3.4" height="3.29"/>
<rect x="538.7" y="328.65" width="3.4" height="3.65"/>
<rect x="542.1" y="329.19" width="3.4" height="3.11"/>
<rect x="545.5" y="328.15" width="3.4" height="4.15"/>
<rect x="548.9" y="328.86" width="3.4" height="3.44"/>
<rect x="552.3" y="327.68" width="3.4" height="4.62"/>
</g>
<line clip-path="url(#ci4)" x1="407.5" x2="554.8" y1="332.3" y2="332.3" stroke="#222" stroke-width="1.3"/>
<polyline clip-path="url(#ci4)" points="412.6,304.5 416.3,330.3 421,331.3 426.9,331.8 433.5,331.9 443.9,331.9 446.8,331.85 460,331.6 480,331.1 500,330.4 520,329.6 536.1,328.8 546,328.1 555,327" fill="none" stroke="#00008b" stroke-width="1.55" stroke-linejoin="round" stroke-linecap="round"/>
<circle cx="416.3" cy="330.3" r="2.1" fill="#00008b"/>
<circle cx="426.9" cy="331.8" r="2.1" fill="#00008b"/>
<circle cx="433.5" cy="331.9" r="2.1" fill="#00008b"/>
<circle cx="443.9" cy="331.9" r="2.1" fill="#00008b"/>
<circle cx="446.8" cy="331.85" r="2.1" fill="#00008b"/>
<circle cx="536.1" cy="328.8" r="2.1" fill="#00008b"/>
<circle cx="546" cy="328.1" r="2.1" fill="#00008b"/>
<rect x="407.5" y="251.8" width="147.3" height="83.1" fill="none" stroke="#222" stroke-width="1.2"/>
<line x1="412.9" x2="412.9" y1="334.9" y2="339.9" stroke="#222" stroke-width="1"/>
<text x="412.9" y="351.9" font-size="11.6" text-anchor="middle">0</text>
<line x1="446.9" x2="446.9" y1="334.9" y2="339.9" stroke="#222" stroke-width="1"/>
<text x="446.9" y="351.9" font-size="11.6" text-anchor="middle">10</text>
<line x1="480.9" x2="480.9" y1="334.9" y2="339.9" stroke="#222" stroke-width="1"/>
<text x="480.9" y="351.9" font-size="11.6" text-anchor="middle">20</text>
<line x1="514.9" x2="514.9" y1="334.9" y2="339.9" stroke="#222" stroke-width="1"/>
<text x="514.9" y="351.9" font-size="11.6" text-anchor="middle">30</text>
<line x1="548.9" x2="548.9" y1="334.9" y2="339.9" stroke="#222" stroke-width="1"/>
<text x="548.9" y="351.9" font-size="11.6" text-anchor="middle">40</text>
<line x1="402.5" x2="407.5" y1="332.3" y2="332.3" stroke="#222" stroke-width="1"/>
<line x1="402.5" x2="407.5" y1="316.7" y2="316.7" stroke="#222" stroke-width="1"/>
<line x1="402.5" x2="407.5" y1="301.1" y2="301.1" stroke="#222" stroke-width="1"/>
<line x1="402.5" x2="407.5" y1="285.5" y2="285.5" stroke="#222" stroke-width="1"/>
<line x1="402.5" x2="407.5" y1="269.9" y2="269.9" stroke="#222" stroke-width="1"/>
<line x1="402.5" x2="407.5" y1="254.3" y2="254.3" stroke="#222" stroke-width="1"/>
<text transform="translate(396.5,332.3) rotate(-90)" font-size="11.6" text-anchor="middle">0.00</text>
<text transform="translate(396.5,285.5) rotate(-90)" font-size="11.6" text-anchor="middle">0.03</text>
</svg></body></html>
